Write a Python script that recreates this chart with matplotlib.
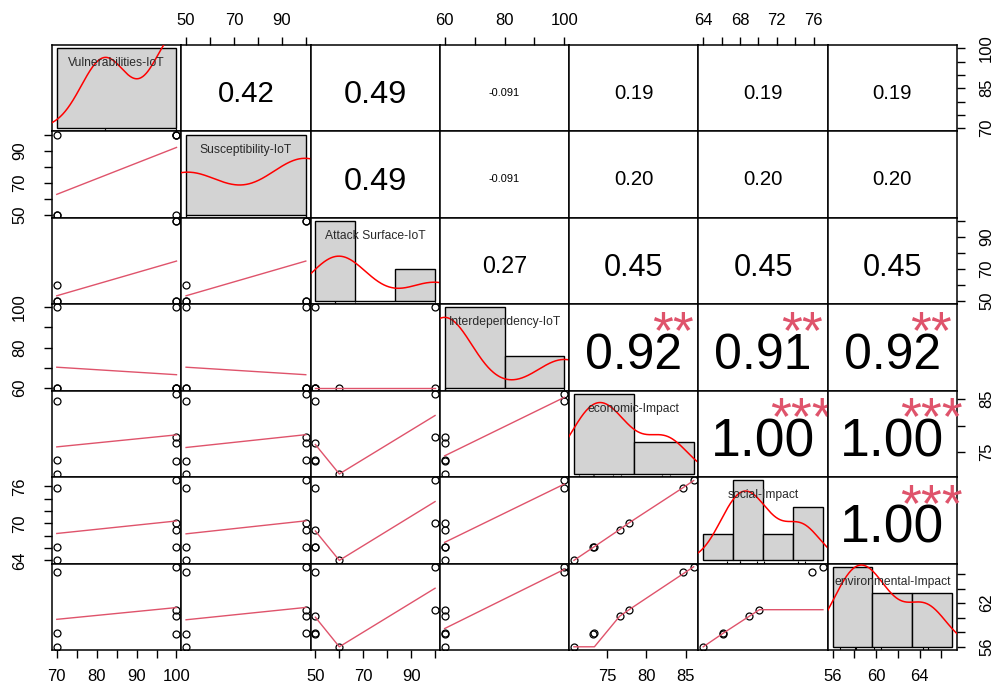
import numpy as np
import matplotlib
matplotlib.use("Agg")
import matplotlib.pyplot as plt
from matplotlib import font_manager
from matplotlib.transforms import offset_copy

names = ['Vulnerabilities-IoT', 'Susceptibility-IoT', 'Attack Surface-IoT', 'Interdependency-IoT',
         'economic-Impact', 'social-Impact', 'environmental-Impact']

vulnerabilities = [70, 100, 70, 100, 100, 70, 100]
susceptibility = [50, 50, 100, 100, 100, 50, 100]
attack_surface = [60, 50, 50, 50, 100, 50, 100]
interdependency = [60, 60, 60, 60, 60, 100, 100]
economic = [70.8, 73.2, 73.4, 76.6, 77.8, 84.7, 86.0]
social = [64.0, 66.1, 66.2, 69.0, 70.1, 75.8, 77.0]
environmental = [56.0, 57.8, 57.9, 60.2, 61.1, 66.3, 67.0]

variables = [vulnerabilities, susceptibility, attack_surface, interdependency,
             economic, social, environmental]

# upper panels, row by row, as printed
corr_text = ['0.42', '0.49', '-0.091', '0.19', '0.19', '0.19',
             '0.49', '-0.091', '0.20', '0.20', '0.20',
             '0.27', '0.45', '0.45', '0.45',
             '0.92', '0.91', '0.92',
             '1.00', '1.00',
             '1.00']
corr_stars = ['', '', '', '', '', '',
              '', '', '', '', '',
              '', '', '', '',
              '**', '**', '**',
              '***', '***',
              '***']

hist_breaks = [[50, 100], [50, 100], [40, 60, 80, 100], [60, 80, 100],
               [70, 80, 90], [60, 65, 70, 75, 80], [55, 60, 65, 70]]

ticks = [[70, 75, 80, 85, 90, 95, 100], [50, 60, 70, 80, 90, 100], [50, 60, 70, 80, 90, 100],
         [60, 70, 80, 90, 100], [75, 80, 85], [64, 66, 68, 70, 72, 74, 76], [56, 58, 60, 62, 64, 66]]
labels_h = [[70, 80, 90, 100], [50, 70, 90], [50, 70, 90], [60, 80, 100],
            [75, 80, 85], [64, 68, 72, 76], [56, 60, 64]]
labels_v = [[70, 85, 100], [50, 70, 90], [50, 70, 90], [60, 80, 100],
            [75, 85], [64, 70, 76], [56, 62]]

installed = {f.name for f in font_manager.fontManager.ttflist}
tick_font = 'Liberation Sans Narrow' if 'Liberation Sans Narrow' in installed else 'Liberation Sans'
tick_size = 13.5 if tick_font.endswith('Narrow') else 12
plt.rcParams['font.family'] = ['Liberation Sans', 'DejaVu Sans']


def density(v):
    # gaussian kernel, bw.nrd0 like R's density()
    v = np.asarray(v, float)
    spread = min(np.std(v, ddof=1), (np.percentile(v, 75) - np.percentile(v, 25)) / 1.34)
    bw = 0.9 * spread * len(v) ** -0.2
    grid = np.linspace(v.min() - 3 * bw, v.max() + 3 * bw, 512)
    z = (grid[:, None] - v[None, :]) / bw
    return grid, np.exp(-0.5 * z ** 2).sum(1) / (len(v) * bw * np.sqrt(2 * np.pi))


def lowess(x, y, f=2 / 3, iters=3):
    # port of R's clowess, used by panel.smooth
    order = np.argsort(x, kind='stable')
    x = np.asarray(x, float)[order]
    y = np.asarray(y, float)[order]
    n = len(x)
    ns = max(2, min(n, int(f * n + 1e-7)))
    rng = x[-1] - x[0]
    delta = 0.01 * rng
    ys = np.zeros(n)
    rw = np.ones(n)
    for it in range(iters + 1):
        nleft, nright, last, i = 0, ns - 1, -1, 0
        while True:
            if nright < n - 1 and x[i] - x[nleft] > x[nright + 1] - x[i]:
                nleft += 1
                nright += 1
                continue
            h = max(x[i] - x[nleft], x[nright] - x[i])
            w = np.zeros(n)
            j = nleft
            while j < n:
                r = abs(x[j] - x[i])
                if r <= 0.999 * h:
                    w[j] = 1.0 if r <= 0.001 * h else (1 - (r / h) ** 3) ** 3
                    if it > 0:
                        w[j] *= rw[j]
                elif x[j] > x[i]:
                    break
                j += 1
            sl = slice(nleft, j)
            a = w[sl].sum()
            if a <= 0:
                ys[i] = y[i]
            else:
                ww = w[sl] / a
                xx = x[sl]
                if h > 0:
                    cx = (ww * xx).sum()
                    c = (ww * (xx - cx) ** 2).sum()
                    if np.sqrt(c) > 0.001 * rng:
                        ww = ww * ((x[i] - cx) / c * (xx - cx) + 1)
                ys[i] = (ww * y[sl]).sum()
            if last < i - 1:
                for m in range(last + 1, i):
                    alpha = (x[m] - x[last]) / (x[i] - x[last])
                    ys[m] = alpha * ys[i] + (1 - alpha) * ys[last]
            last = i
            cut = x[last] + delta
            i = last + 1
            while i < n:
                if x[i] > cut:
                    break
                if x[i] == x[last]:
                    ys[i] = ys[last]
                    last = i
                i += 1
            i = max(last + 1, i - 1)
            if last >= n - 1:
                break
        res = y - ys
        if it == iters:
            break
        sc = np.abs(res).mean()
        srt = np.sort(np.abs(res))
        m1 = n // 2
        cmad = 3 * (srt[m1] + srt[n - m1 - 1]) if n % 2 == 0 else 6 * srt[m1]
        if cmad < 1e-7 * sc:
            break
        r = np.abs(res)
        rw = np.where(r <= 0.001 * cmad, 1.0,
                      np.where(r <= 0.999 * cmad, (1 - (r / cmad) ** 2) ** 2, 0.0))
    return x, ys


def padded(lo, hi):
    d = 0.04 * (hi - lo)
    return lo - d, hi + d


nv = len(variables)
fig, axes = plt.subplots(nv, nv, figsize=(10, 6.91), dpi=100,
                         gridspec_kw=dict(hspace=0, wspace=0))
fig.subplots_adjust(left=0.052, right=0.957, top=1 - 45 / 691, bottom=1 - 650 / 691)
renderer = fig.canvas.get_renderer()

k = 0
for i in range(nv):
    for j in range(nv):
        ax = axes[i, j]
        xv = np.array(variables[j], float)
        yv = np.array(variables[i], float)
        ax.set_xticks([])
        ax.set_yticks([])
        for s in ax.spines.values():
            s.set_linewidth(1.1)

        if i > j:
            ax.plot(xv, yv, 'o', mfc='none', mec='black', ms=5, mew=0.9)
            sx, sy = lowess(xv, yv)
            ax.plot(sx, sy, color='#DF536B', lw=1.0)
        elif i < j:
            txt, stars = corr_text[k], corr_stars[k]
            k += 1
            r = abs(float(txt))
            probe = ax.text(0.5, 0.5, txt, transform=ax.transAxes, fontsize=10)
            pw = ax.get_window_extent(renderer).width
            full = 10 * 0.8 * pw / probe.get_window_extent(renderer).width
            probe.remove()
            size = full * (r + 0.3) / 1.3
            # centre the digits' ink near the panel middle, as R does
            ax.text(0.5, 0.5, txt, ha='center', va='baseline', fontsize=size,
                    transform=offset_copy(ax.transAxes, fig=fig, y=-0.358 * size - 2.5, units='points'))
            if stars:
                ax.text(0.8, 0.8, stars, ha='center', va='baseline', fontsize=full, color='#DF536B',
                        transform=offset_copy(ax.transAxes, fig=fig, y=-0.49 * full, units='points'))
        else:
            breaks = np.array(hist_breaks[i], float)
            idx = np.clip(np.searchsorted(breaks, xv, side='left') - 1, 0, len(breaks) - 2)
            counts = np.bincount(idx, minlength=len(breaks) - 1)
            dens = counts / (len(xv) * np.diff(breaks))
            hax = ax.inset_axes([0, 0, 1, 1])
            hax.axis('off')
            hax.bar(breaks[:-1], dens, width=np.diff(breaks), align='edge',
                    color='#D3D3D3', edgecolor='black', linewidth=1.0)
            gx, gy = density(xv)
            hax.plot(gx, gy, color='red', lw=1.1)
            hax.vlines(xv, 0, 0.03, transform=hax.get_xaxis_transform(), color='black', lw=0.8)
            hax.set_xlim(padded(breaks[0], breaks[-1]))
            hax.set_ylim(padded(0, dens.max()))
            hax.text(0.5, 0.79, names[i], transform=hax.transAxes, ha='center', va='center',
                     fontsize=8.7, color='#2a2a2a', zorder=5)

        # outer axes alternate like R's pairs()
        if (i == 0 and j % 2 == 1) or (i == nv - 1 and j % 2 == 0):
            top = i == 0
            ax.set_xticks(ticks[j])
            ax.set_xticklabels([str(v) if v in labels_h[j] else '' for v in ticks[j]],
                               fontfamily=tick_font, fontsize=tick_size)
            ax.tick_params(axis='x', top=top, bottom=not top, labeltop=top, labelbottom=not top,
                           length=6, width=1.0, pad=6 if top else 8)
        if (j == 0 and i % 2 == 1) or (j == nv - 1 and i % 2 == 0):
            left = j == 0
            ax.set_yticks(ticks[i])
            ax.set_yticklabels([str(v) if v in labels_v[i] else '' for v in ticks[i]],
                               fontfamily=tick_font, fontsize=tick_size, rotation=90, va='center')
            ax.tick_params(axis='y', left=left, right=not left, labelleft=left, labelright=not left,
                           length=6, width=1.0, pad=12 if left else 10)
        ax.set_xlim(padded(xv.min(), xv.max()))
        ax.set_ylim(padded(yv.min(), yv.max()))

fig.savefig('out.png', dpi=100)
